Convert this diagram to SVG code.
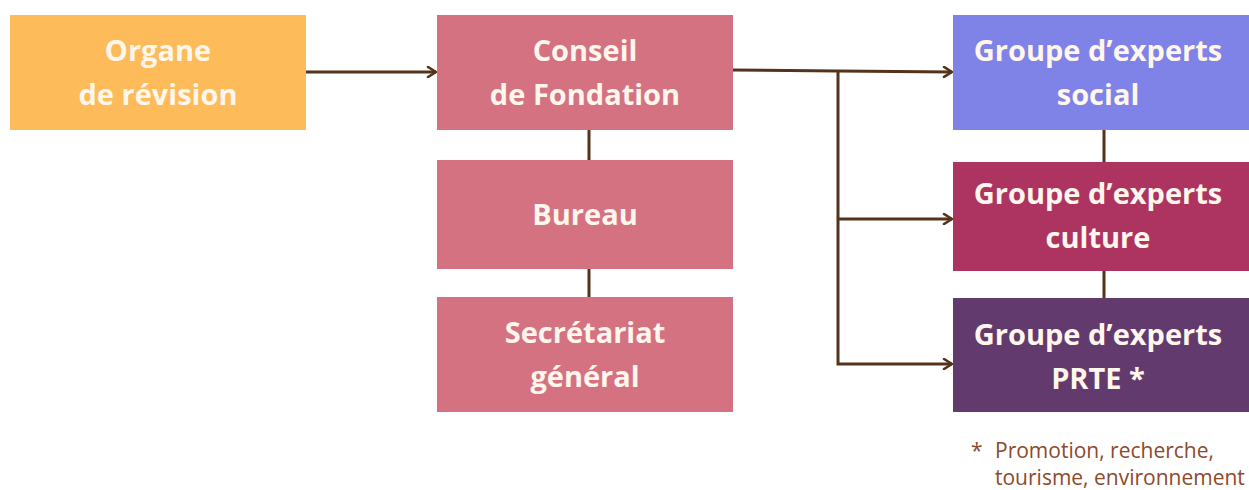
<svg xmlns="http://www.w3.org/2000/svg" width="1249" height="490" viewBox="0 0 1249 490">
<defs>
<style>
.lbl{font-family:"Open Sans","Noto Sans","Liberation Sans",sans-serif;font-weight:700;font-size:29px;fill:#FFF6EC;text-anchor:middle}
.con{stroke:#55331A;stroke-width:3;fill:none}
.note{font-family:"Open Sans","Noto Sans","Liberation Sans",sans-serif;font-size:21px;fill:#8B4A2A}
</style>
<marker id="arr" viewBox="0 0 12 12" refX="10" refY="6" markerWidth="12" markerHeight="12" markerUnits="userSpaceOnUse" orient="auto">
<path d="M2,1 L10,6 L2,11" fill="none" stroke="#55331A" stroke-width="2.6" stroke-linecap="round" stroke-linejoin="round"/>
</marker>
</defs>
<rect width="1249" height="490" fill="#FFFFFF"/>
<g id="connectors">
<line class="con" x1="306" y1="72" x2="436" y2="72" marker-end="url(#arr)"/>
<polyline class="con" points="733,70 838,71 952,72" marker-end="url(#arr)"/>
<polyline class="con" points="838,71 838,364 952,364" marker-end="url(#arr)"/>
<line class="con" x1="838" y1="219" x2="952" y2="219" marker-end="url(#arr)"/>
<line class="con" x1="589" y1="130" x2="589" y2="160"/>
<line class="con" x1="589" y1="269" x2="589" y2="297"/>
<line class="con" x1="1104" y1="130" x2="1104" y2="162"/>
<line class="con" x1="1104" y1="271" x2="1104" y2="298"/>
</g>
<g id="organe">
<rect x="10" y="15" width="296" height="115" fill="#FDBB5A"/>
<text class="lbl" x="158" y="61">Organe</text>
<text class="lbl" x="158" y="105">de révision</text>
</g>
<g id="conseil">
<rect x="437" y="15" width="296" height="115" fill="#D47282"/>
<text class="lbl" x="585" y="61">Conseil</text>
<text class="lbl" x="585" y="105">de Fondation</text>
</g>
<g id="bureau">
<rect x="437" y="160" width="296" height="109" fill="#D47282"/>
<text class="lbl" x="585" y="225">Bureau</text>
</g>
<g id="secretariat">
<rect x="437" y="297" width="296" height="115" fill="#D47282"/>
<text class="lbl" x="585" y="343">Secrétariat</text>
<text class="lbl" x="585" y="387">général</text>
</g>
<g id="social">
<rect x="953" y="15" width="296" height="115" fill="#7F82E6"/>
<text class="lbl" x="1098" y="61">Groupe d’experts</text>
<text class="lbl" x="1098" y="105">social</text>
</g>
<g id="culture">
<rect x="953" y="162" width="296" height="109" fill="#AD3460"/>
<text class="lbl" x="1098" y="204">Groupe d’experts</text>
<text class="lbl" x="1098" y="248">culture</text>
</g>
<g id="prte">
<rect x="953" y="298" width="296" height="114" fill="#633A6E"/>
<text class="lbl" x="1098" y="345">Groupe d’experts</text>
<text class="lbl" x="1098" y="389">PRTE *</text>
</g>
<g id="footnote">
<text class="note" x="971" y="458">*</text>
<text class="note" x="995" y="458">Promotion, recherche,</text>
<text class="note" x="995" y="485">tourisme, environnement</text>
</g>
</svg>
